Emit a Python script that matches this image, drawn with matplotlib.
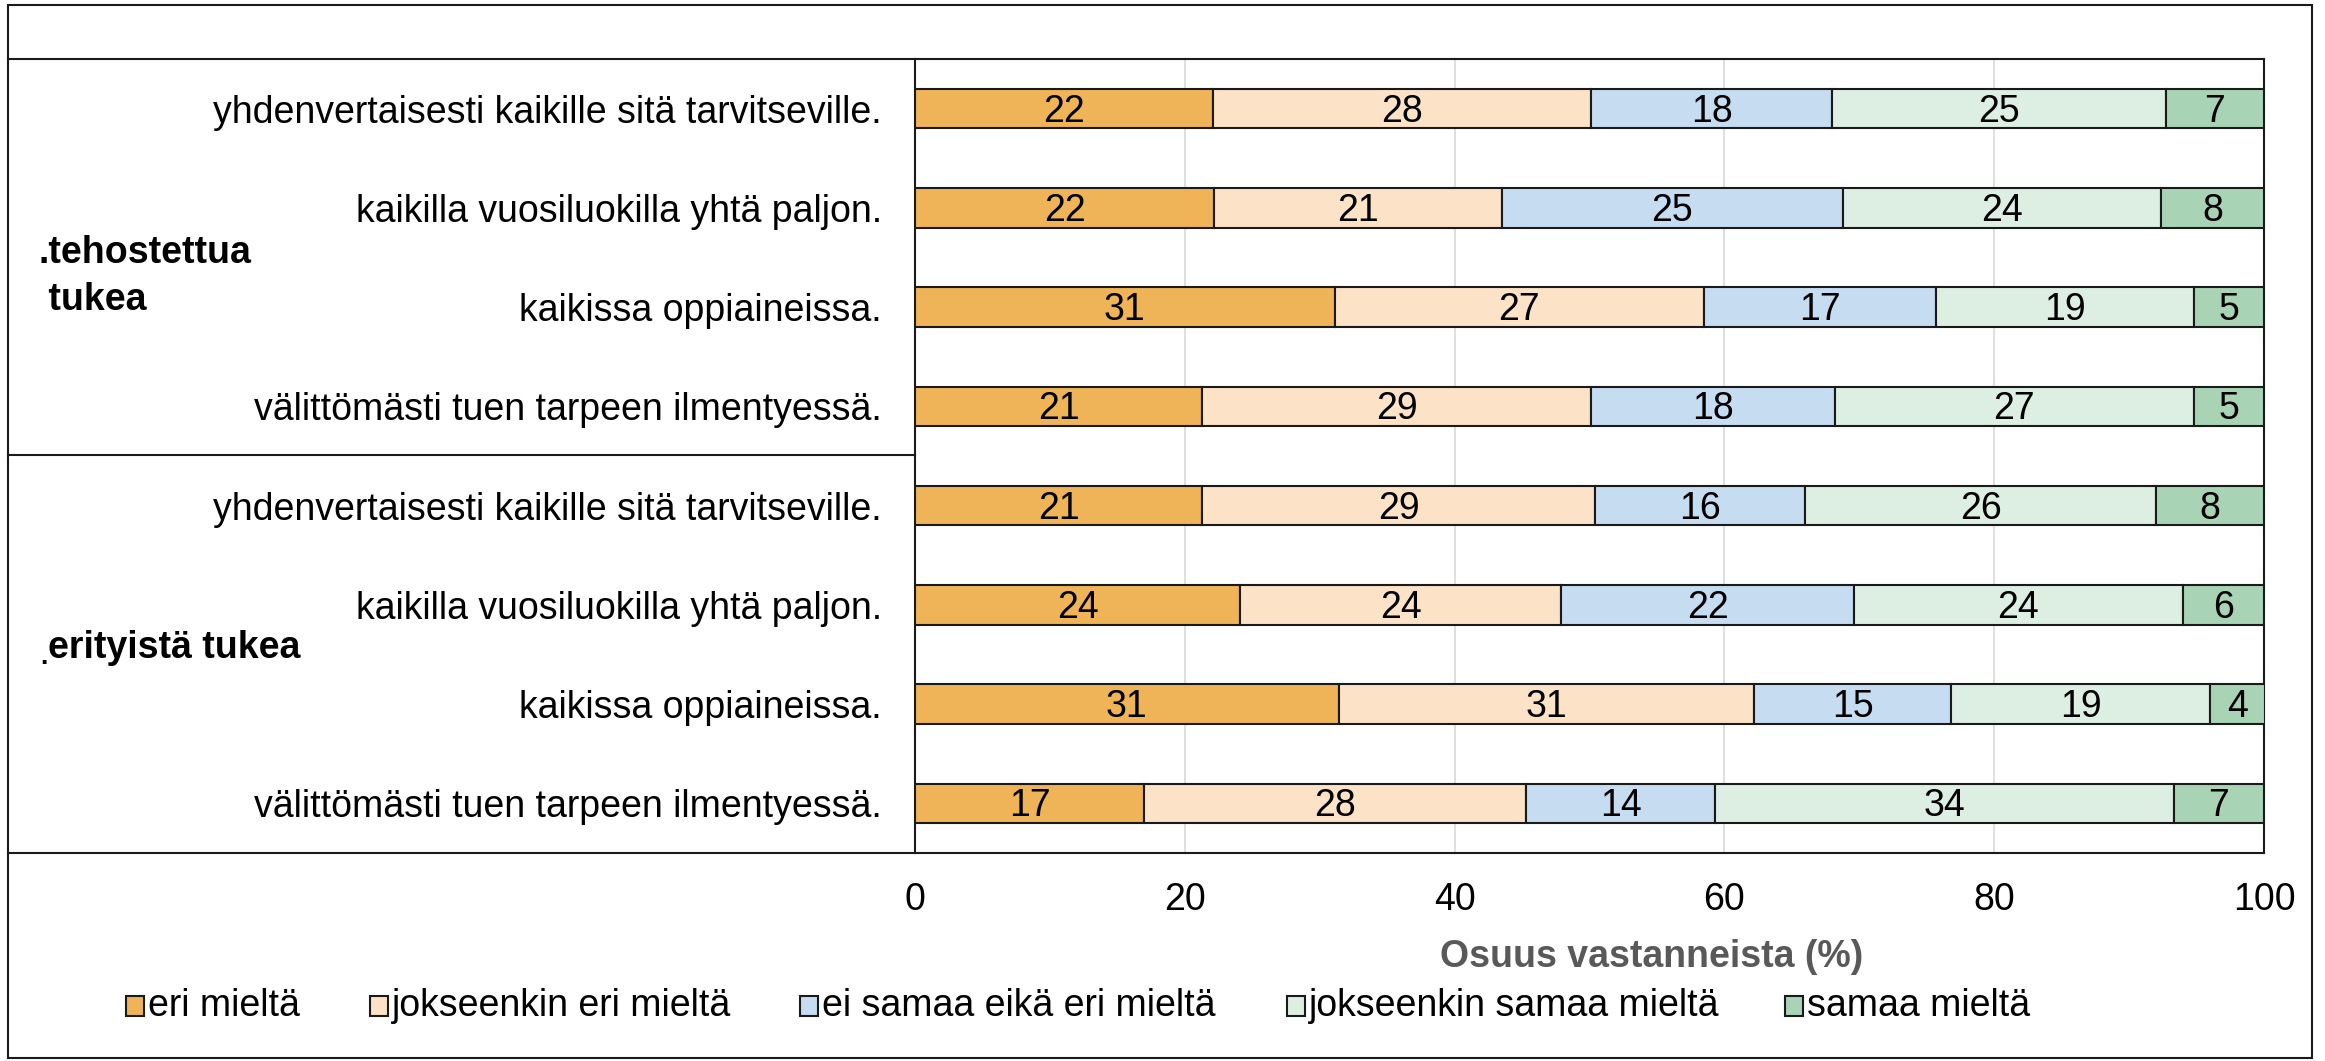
import matplotlib

matplotlib.use("Agg")
import matplotlib.pyplot as plt
import numpy as np
from matplotlib.lines import Line2D
from matplotlib.patches import Rectangle

plt.rcParams["font.family"] = ["Liberation Sans", "DejaVu Sans"]

# rows, top to bottom
statements = [
    "yhdenvertaisesti kaikille sitä tarvitseville.",
    "kaikilla vuosiluokilla yhtä paljon.",
    "kaikissa oppiaineissa.",
    "välittömästi tuen tarpeen ilmentyessä.",
    "yhdenvertaisesti kaikille sitä tarvitseville.",
    "kaikilla vuosiluokilla yhtä paljon.",
    "kaikissa oppiaineissa.",
    "välittömästi tuen tarpeen ilmentyessä.",
]

eri_mielta = [22.1, 22.2, 31.1, 21.3, 21.3, 24.1, 31.4, 17.0]
jokseenkin_eri = [28.0, 21.3, 27.4, 28.8, 29.1, 23.8, 30.8, 28.3]
ei_samaa_eika_eri = [17.9, 25.3, 17.2, 18.1, 15.6, 21.7, 14.6, 14.0]
jokseenkin_samaa = [24.7, 23.6, 19.1, 26.6, 26.0, 24.4, 19.2, 34.0]
samaa_mielta = [7.3, 7.6, 5.2, 5.2, 8.0, 6.0, 4.1, 6.7]

series_names = [
    "eri mieltä",
    "jokseenkin eri mieltä",
    "ei samaa eikä eri mieltä",
    "jokseenkin samaa mieltä",
    "samaa mieltä",
]
series_colors = ["#EEB457", "#FCE2C6", "#C6DCF1", "#DDEEE2", "#A9D3B5"]
x_ticks = [0, 20, 40, 60, 80, 100]

W, H = 2325, 1061
FS = 27


def fx(px):
    return px / W


def fy(py):
    return 1 - py / H


fig = plt.figure(figsize=(W / 100, H / 100), dpi=100)
ax = fig.add_axes([fx(915), fy(853), fx(2264) - fx(915), fy(59) - fy(853)])

series = [eri_mielta, jokseenkin_eri, ei_samaa_eika_eri, jokseenkin_samaa, samaa_mielta]
y = np.arange(len(statements))
left = np.zeros(len(statements))
for name, vals, col in zip(series_names, series, series_colors):
    vals = np.array(vals)
    ax.barh(y, vals, left=left, height=0.4, color=col, edgecolor="#1a1a1a",
            linewidth=1.5, label=name, zorder=3)
    for yi, (l, v) in enumerate(zip(left, vals)):
        ax.text(l + v / 2, yi + 0.03, f"{v:.0f}", ha="center", va="center",
                fontsize=FS, color="black", zorder=4)
    left += vals

ax.set_xlim(0, 100)
ax.set_ylim(len(statements) - 0.5, -0.5)
ax.set_xticks(x_ticks)
ax.set_xticklabels([str(t) for t in x_ticks], fontsize=FS)
ax.set_yticks(y)
ax.set_yticklabels(statements, fontsize=FS)
ax.tick_params(axis="x", length=0, pad=21)
ax.tick_params(axis="y", length=0, pad=24)
ax.grid(axis="x", color="#D9D9D9", linewidth=1.2, zorder=0)
for s in ax.spines.values():
    s.set_color("#1a1a1a")
    s.set_linewidth(1.5)

# table lines on the left and the outer frame
for py in (59, 455, 853):
    fig.add_artist(Line2D([fx(8), fx(915)], [fy(py), fy(py)], color="#1a1a1a",
                          linewidth=1.5, transform=fig.transFigure))
fig.add_artist(Rectangle((fx(8), fy(1058)), fx(2312) - fx(8), fy(5) - fy(1058),
                         fill=False, edgecolor="#1a1a1a", linewidth=1.5,
                         transform=fig.transFigure))

# group labels
fig.text(fx(38), fy(253), ".tehostettua", fontsize=FS, fontweight="bold",
         ha="left", va="center")
fig.text(fx(38), fy(300), " tukea", fontsize=FS, fontweight="bold",
         ha="left", va="center")
fig.text(fx(48), fy(648), "erityistä tukea", fontsize=FS, fontweight="bold",
         ha="left", va="center")
fig.text(fx(40), fy(664), ".", fontsize=FS - 8, fontweight="bold",
         ha="left", va="baseline")

fig.text(fx(1652), fy(957), "Osuus vastanneista (%)", fontsize=FS,
         fontweight="bold", color="#595959", ha="center", va="center")

# legend, Excel style: small square key, uneven spacing
legend_x = [126, 370, 800, 1287, 1785]
for px, name, col in zip(legend_x, series_names, series_colors):
    fig.add_artist(Rectangle((fx(px), fy(1016)), fx(18), 20 / H, facecolor=col,
                             edgecolor="#1a1a1a", linewidth=1.5,
                             transform=fig.transFigure))
    fig.text(fx(px + 22), fy(1006), name, fontsize=FS, ha="left", va="center")

fig.savefig("out.png", dpi=100)
